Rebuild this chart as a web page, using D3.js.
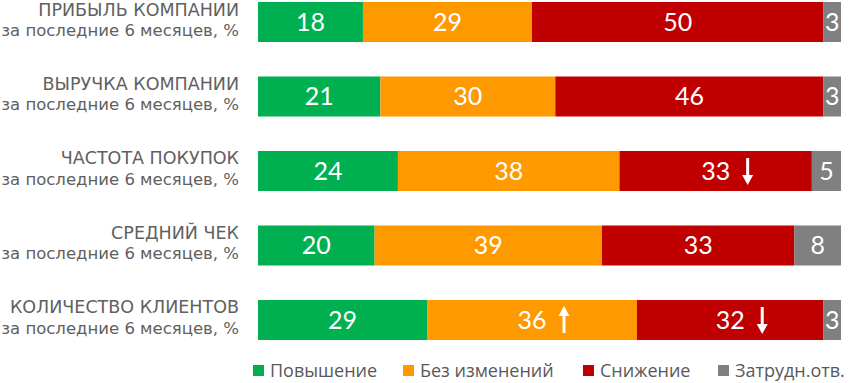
<!DOCTYPE html>
<html>
<head>
<meta charset="utf-8">
<script src="https://cdn.jsdelivr.net/npm/d3@7"></script>
<style>
	body { margin: 0; background: #fff; }
	svg { display: block; }
</style>
</head>
<body>
<div class="chart"></div>
<script>
// данные
let categories = ['ПРИБЫЛЬ КОМПАНИИ', 'ВЫРУЧКА КОМПАНИИ', 'ЧАСТОТА ПОКУПОК', 'СРЕДНИЙ ЧЕК', 'КОЛИЧЕСТВО КЛИЕНТОВ'];
let subtitle = 'за последние 6 месяцев, %';
let seriesNames = ['Повышение', 'Без изменений', 'Снижение', 'Затрудн.отв.'];
let up = [18, 21, 24, 20, 29];
let same = [29, 30, 38, 39, 36];
let down = [50, 46, 33, 33, 32];
let hard = [3, 3, 5, 8, 3];
// стрелки: 'up' / 'down' / null по сериям
let arrows = [
	[null, null, null, null],
	[null, null, null, null],
	[null, null, 'down', null],
	[null, null, null, null],
	[null, 'up', 'down', null]
];

let colors = ['#00B050', '#FF9900', '#C00000', '#808080'];
let width = 853, height = 383;

let svg = d3.select('.chart').append('svg')
	.attr('width', width)
	.attr('height', height);

let series = [up, same, down, hard];
let rows = categories.map((c, i) => {
	let x0 = 0;
	return {
		name: c,
		segs: series.map((s, k) => {
			let seg = { k: k, v: s[i], x0: x0, x1: x0 + s[i], arrow: arrows[i][k] };
			x0 += s[i];
			return seg;
		})
	};
});

let xScale = d3.scaleLinear().domain([0, 100]).range([258, 841]);
let yScale = d3.scaleBand().domain(categories).range([2, 340]).paddingInner(0.463).paddingOuter(0);
let bh = yScale.bandwidth();

// подписи слева
let labels = svg.append('g').selectAll('g')
	.data(categories)
	.enter().append('g')
	.attr('font-family', 'DejaVu Sans, sans-serif')
	.attr('text-anchor', 'end')
	.attr('fill', '#606060');
labels.append('text')
	.attr('x', 239)
	.attr('y', d => yScale(d) + 13.5)
	.attr('font-size', 17.5)
	.text(d => d);
labels.append('text')
	.attr('x', 239)
	.attr('y', d => yScale(d) + 34)
	.attr('font-size', 16.5)
	.text(subtitle);

// полосы
let rowG = svg.append('g').selectAll('g')
	.data(rows)
	.enter().append('g')
	.attr('transform', d => 'translate(0,' + yScale(d.name) + ')');

let seg = rowG.selectAll('g')
	.data(d => d.segs)
	.enter().append('g');

seg.append('rect')
	.attr('x', d => xScale(d.x0))
	.attr('y', 0)
	.attr('width', d => xScale(d.x1) - xScale(d.x0))
	.attr('height', bh)
	.attr('fill', d => colors[d.k]);

seg.append('text')
	.attr('x', d => (xScale(d.x0) + xScale(d.x1)) / 2)
	.attr('y', bh / 2 + 9)
	.attr('text-anchor', 'middle')
	.attr('font-family', 'Lato, sans-serif')
	.attr('font-size', 25)
	.attr('fill', '#fff')
	.text(d => d.v);

// стрелки
let arr = seg.filter(d => d.arrow)
	.append('g')
	.attr('transform', d => 'translate(' + ((xScale(d.x0) + xScale(d.x1)) / 2 + 32) + ',' + (bh / 2) + ')');
arr.append('line')
	.attr('x1', 0).attr('x2', 0)
	.attr('y1', d => d.arrow == 'up' ? 13 : -13)
	.attr('y2', d => d.arrow == 'up' ? -4 : 4)
	.attr('stroke', '#fff')
	.attr('stroke-width', 3);
arr.append('path')
	.attr('d', d => d.arrow == 'up' ? 'M-5.5,-4L5.5,-4L0,-14Z' : 'M-5.5,4L5.5,4L0,14Z')
	.attr('fill', '#fff');

// легенда
let legendX = [253, 403, 583, 718];
let legend = svg.append('g').selectAll('g')
	.data(seriesNames)
	.enter().append('g')
	.attr('transform', (d, i) => 'translate(' + legendX[i] + ',365)');
legend.append('rect')
	.attr('width', 11)
	.attr('height', 11)
	.attr('fill', (d, i) => colors[i]);
legend.append('text')
	.attr('x', 17)
	.attr('y', 12)
	.attr('font-family', 'Open Sans, sans-serif')
	.attr('font-size', 18)
	.attr('fill', '#595959')
	.text(d => d);
</script>
</body>
</html>
